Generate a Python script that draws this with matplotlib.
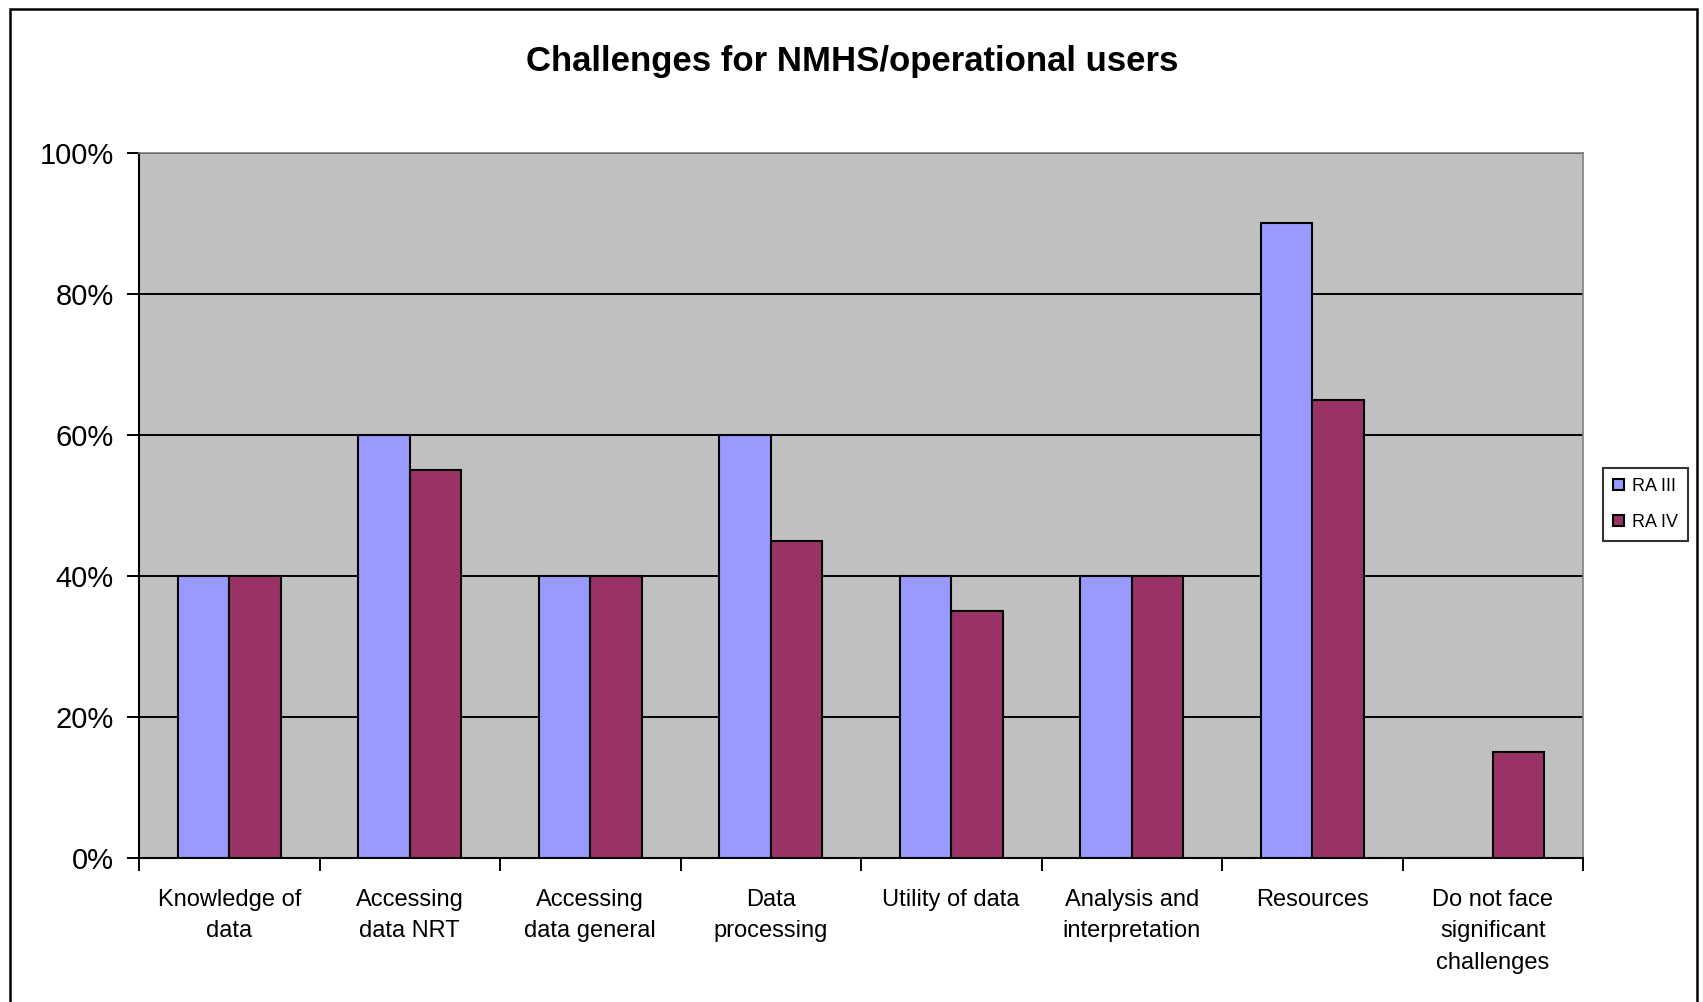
import matplotlib
matplotlib.use("Agg")
import matplotlib.pyplot as plt
from matplotlib.patches import Rectangle
from matplotlib.ticker import FixedLocator, NullFormatter
import numpy as np

categories = ["Knowledge of\ndata", "Accessing\ndata NRT", "Accessing\ndata general",
              "Data\nprocessing", "Utility of data", "Analysis and\ninterpretation",
              "Resources", "Do not face\nsignificant\nchallenges"]
ra_iii = [40, 60, 40, 60, 40, 40, 90, 0]
ra_iv = [40, 55, 40, 45, 35, 40, 65, 15]
y_ticks = [0, 20, 40, 60, 80, 100]
title = "Challenges for NMHS/operational users"

plt.rcParams['font.family'] = ['Liberation Sans', 'DejaVu Sans']

fig = plt.figure(figsize=(17.03, 10.02), dpi=100)
fig.patch.set_facecolor('white')
# outer chart border
fig.patches.append(Rectangle((10 / 1703, -0.05), 1687 / 1703, 1 - 9 / 1002 + 0.05,
                             transform=fig.transFigure, fill=False,
                             edgecolor='black', linewidth=1.8))

ax = fig.add_axes([139 / 1703, 1 - 858 / 1002, 1444 / 1703, 705 / 1002])
ax.set_facecolor('#C0C0C0')

x = np.arange(len(categories))
w = 0.286
ax.bar(x - w / 2, ra_iii, w, color='#9999FF', edgecolor='black', linewidth=1.5,
       label='RA III', zorder=3)
ax.bar(x + w / 2, ra_iv, w, color='#993366', edgecolor='black', linewidth=1.5,
       label='RA IV', zorder=3)

ax.set_xlim(-0.5, len(categories) - 0.5)
ax.set_ylim(0, 100)
ax.set_yticks(y_ticks)
ax.set_yticklabels([f"{v}%" for v in y_ticks], fontsize=21)
ax.yaxis.grid(True, color='black', linewidth=1.4, zorder=1)
ax.set_axisbelow(True)

# ticks at the category boundaries, labels at the centres
ax.xaxis.set_major_locator(FixedLocator(np.arange(-0.5, len(categories), 1.0)))
ax.xaxis.set_major_formatter(NullFormatter())
ax.xaxis.set_minor_locator(FixedLocator(x))
ax.set_xticklabels(categories, minor=True, fontsize=17, linespacing=1.58, va='top')
ax.tick_params(axis='x', which='major', length=9, width=1.4, direction='out')
ax.tick_params(axis='x', which='minor', length=0, pad=22)
ax.tick_params(axis='y', length=9, width=1.4, direction='out', pad=9)

for s in ['left', 'bottom']:
    ax.spines[s].set_color('black')
    ax.spines[s].set_linewidth(1.5)
for s in ['top', 'right']:
    ax.spines[s].set_color('#808080')
    ax.spines[s].set_linewidth(1.2)

fig.text(852 / 1703, 1 - 71 / 1002, title, ha='center', va='baseline',
         fontsize=25, fontweight='bold')

leg = fig.legend(loc='upper left', bbox_to_anchor=(1603 / 1703, 1 - 468 / 1002),
                 fontsize=13, frameon=True, fancybox=False, edgecolor='black',
                 handlelength=0.6, handleheight=0.6, handletextpad=0.45,
                 borderpad=0.55, labelspacing=1.05, borderaxespad=0)
leg.get_frame().set_linewidth(1.5)

fig.savefig("out.png", dpi=100)
